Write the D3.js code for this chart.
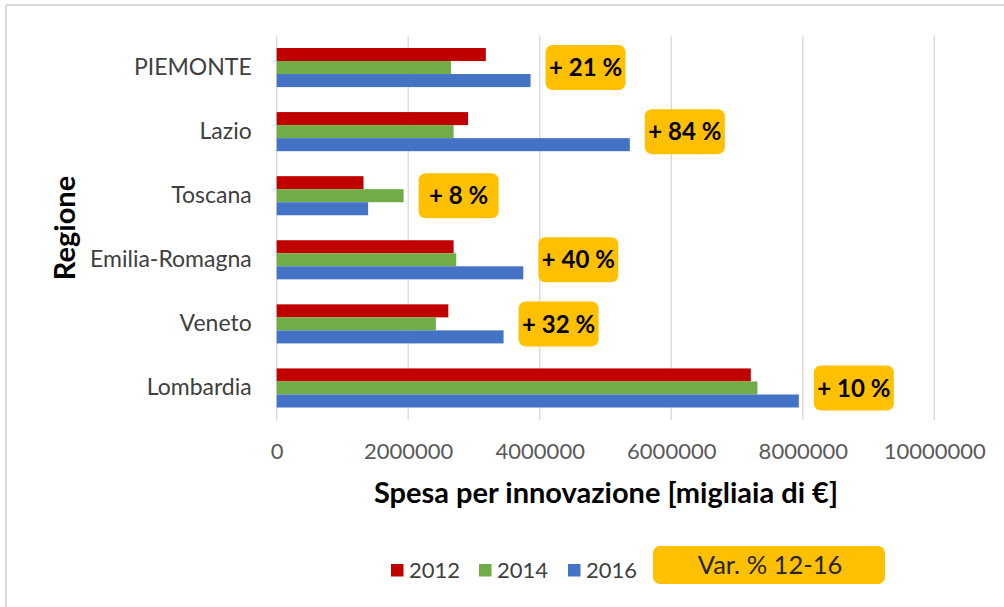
<!DOCTYPE html>
<html>
<head>
<meta charset="utf-8">
<script src="https://cdn.jsdelivr.net/npm/d3@7"></script>
<style>
  html, body { margin: 0; padding: 0; background: #fff; }
  svg { display: block; }
</style>
</head>
<body>
<svg id="chart" width="1004" height="607"></svg>
<script>
// ---- data ----
const regions = ["PIEMONTE", "Lazio", "Toscana", "Emilia-Romagna", "Veneto", "Lombardia"];
const years = ["2012", "2014", "2016"];
const values2012 = [3180000, 2910000, 1320000, 2690000, 2610000, 7210000];
const values2014 = [2650000, 2690000, 1930000, 2730000, 2420000, 7310000];
const values2016 = [3860000, 5370000, 1390000, 3750000, 3450000, 7940000];
const varLabels = ["+ 21 %", "+ 84 %", "+ 8 %", "+ 40 %", "+ 32 %", "+ 10 %"];
const xTicks = [0, 2000000, 4000000, 6000000, 8000000, 10000000];
const colors = ["#C00000", "#70AD47", "#4472C4"];
const xTitle = "Spesa per innovazione [migliaia di €]";
const yTitle = "Regione";
const varLegend = "Var. % 12-16";

(function () {
const series = [values2012, values2014, values2016];

const svg = d3.select("#chart");
const FONT = "Lato, 'Open Sans', sans-serif";

// frame
svg.append("line").attr("x1", 6).attr("x2", 6).attr("y1", 5).attr("y2", 607)
  .attr("stroke", "#d9d9d9").attr("stroke-width", 2);
svg.append("line").attr("x1", 6).attr("x2", 1004).attr("y1", 5).attr("y2", 5)
  .attr("stroke", "#d9d9d9").attr("stroke-width", 2);

const pL = 276.7, pR = 934.3, pT = 35.5, pB = 420;
const x = d3.scaleLinear().domain([0, 10000000]).range([pL, pR]);
const y = d3.scaleBand().domain(regions).range([pT, pB]).paddingInner(0.39).paddingOuter(0.195);
const yInner = d3.scaleBand().domain(years).range([0, y.bandwidth()]);

// gridlines
svg.append("g").selectAll("line").data(xTicks).join("line")
  .attr("x1", d => x(d)).attr("x2", d => x(d))
  .attr("y1", pT).attr("y2", pB)
  .attr("stroke", "#d9d9d9").attr("stroke-width", 1.3);

// x axis tick labels
const xAxis = d3.axisBottom(x).tickValues(xTicks).tickSize(0).tickPadding(0)
  .tickFormat(d => String(d));
const gx = svg.append("g").attr("transform", `translate(0,${pB})`).call(xAxis);
gx.select(".domain").remove();
gx.selectAll("text").attr("font-family", FONT).attr("font-size", 22)
  .attr("fill", "#595959").attr("dy", "1.75em");

// y axis labels
const yAxis = d3.axisLeft(y).tickSize(0).tickPadding(25);
const gy = svg.append("g").attr("transform", `translate(${pL},0)`).call(yAxis);
gy.select(".domain").remove();
gy.selectAll("text").attr("font-family", FONT).attr("font-size", 23).attr("fill", "#404040");

// bars
const groups = svg.append("g").selectAll("g").data(regions).join("g")
  .attr("transform", d => `translate(0,${y(d)})`);
groups.selectAll("rect").data((r, i) => years.map((yr, j) => ({yr, j, v: series[j][i]})))
  .join("rect")
  .attr("x", x(0))
  .attr("y", d => yInner(d.yr))
  .attr("width", d => x(d.v) - x(0))
  .attr("height", yInner.bandwidth())
  .attr("fill", d => colors[d.j]);

// variation callouts
const bw = 80, bh = 45;
regions.forEach((r, i) => {
  const maxV = Math.max(values2012[i], values2014[i], values2016[i]);
  const bx = x(maxV) + 15;
  const cy = y(r) + y.bandwidth() / 2;
  const g = svg.append("g");
  g.append("rect").attr("x", bx).attr("y", cy - bh / 2).attr("width", bw).attr("height", bh)
    .attr("rx", 7).attr("fill", "#FFC000");
  g.append("text").attr("x", bx + bw / 2).attr("y", cy).attr("dy", "0.36em")
    .attr("text-anchor", "middle").attr("font-family", FONT).attr("font-weight", 700)
    .attr("font-size", 24).attr("fill", "#000").text(varLabels[i]);
});

// axis titles
svg.append("text").attr("x", 606).attr("y", 503).attr("text-anchor", "middle")
  .attr("font-family", FONT).attr("font-weight", 700).attr("font-size", 29)
  .attr("fill", "#000").text(xTitle);
svg.append("text").attr("transform", "translate(75,228) rotate(-90)")
  .attr("text-anchor", "middle").attr("font-family", FONT).attr("font-weight", 700)
  .attr("font-size", 29).attr("fill", "#000").text(yTitle);

// legend
const legX = [391, 479, 568];
const leg = svg.append("g");
years.forEach((yr, j) => {
  leg.append("rect").attr("x", legX[j]).attr("y", 564).attr("width", 12.5).attr("height", 12.5)
    .attr("fill", colors[j]);
  leg.append("text").attr("x", legX[j] + 18).attr("y", 570).attr("dy", "0.36em")
    .attr("font-family", FONT).attr("font-size", 22).attr("fill", "#404040").text(yr);
});
leg.append("rect").attr("x", 653).attr("y", 546).attr("width", 232).attr("height", 38)
  .attr("rx", 7).attr("fill", "#FFC000");
leg.append("text").attr("x", 770).attr("y", 565).attr("dy", "0.36em").attr("text-anchor", "middle")
  .attr("font-family", FONT).attr("font-size", 25.5).attr("fill", "#262626").text(varLegend);
})();
</script>
</body>
</html>
